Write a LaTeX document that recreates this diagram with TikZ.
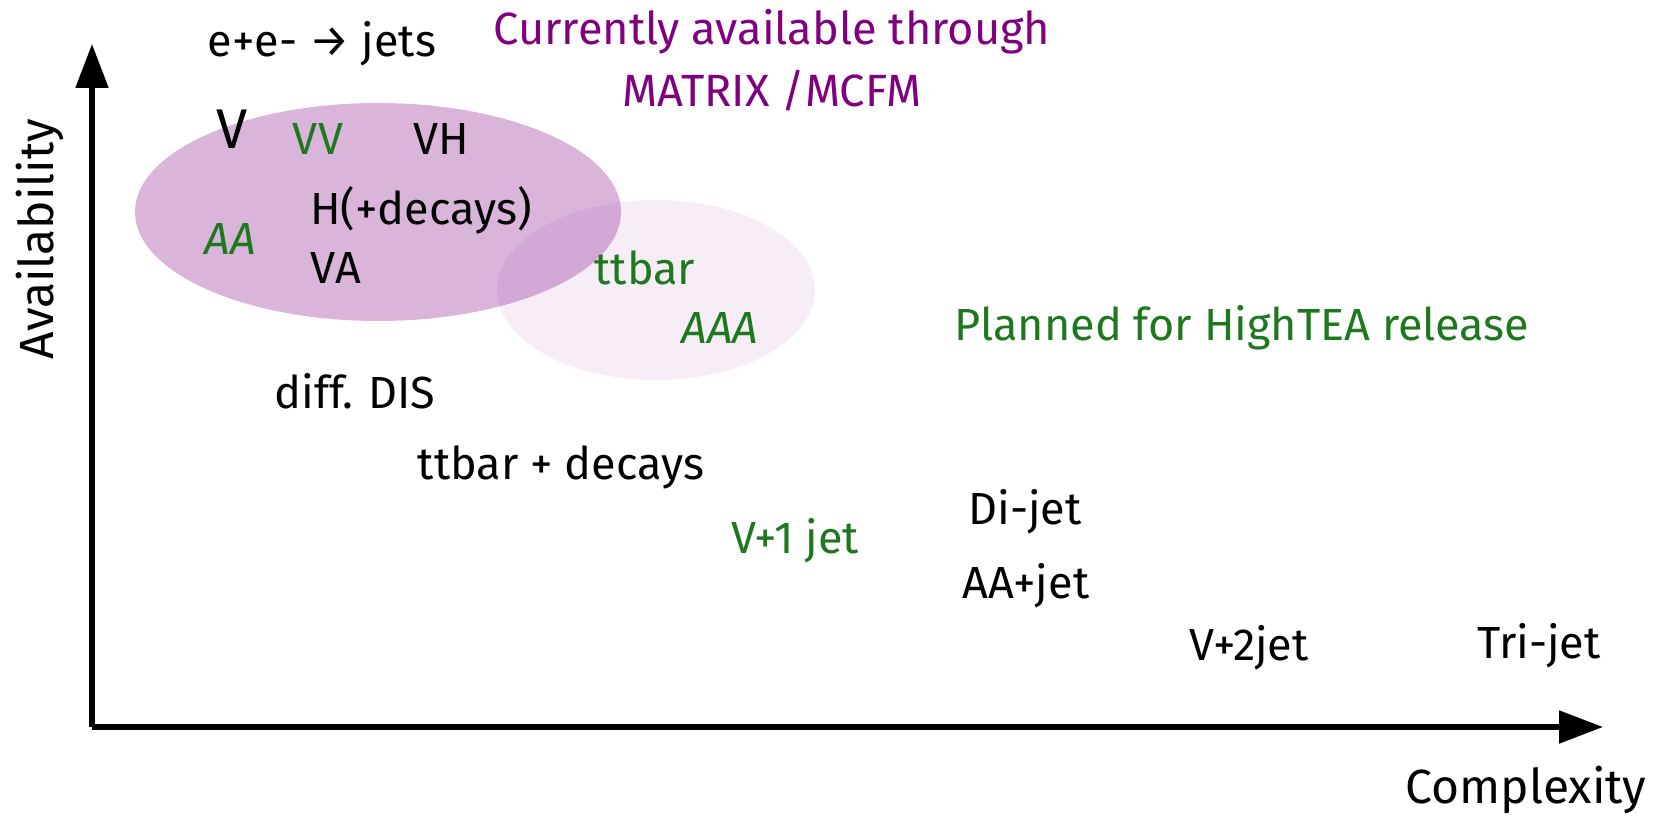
\documentclass[tikz,border=0pt]{standalone}
\usepackage{fontspec}
\setmainfont{Fira Sans}
\usetikzlibrary{arrows.meta}
\definecolor{txtgreen}{RGB}{30,120,30}
\definecolor{txtpurple}{RGB}{128,0,128}
\definecolor{blobpurple}{RGB}{128,0,128}
\tikzset{
  lbl/.style={inner sep=0pt, font=\fontsize{22.5}{26}\selectfont, text=black},
  grn/.style={lbl, text=txtgreen},
  axis/.style={line width=2.6pt, -{Triangle[length=22pt,width=16pt]}},
}
\begin{document}
\begin{tikzpicture}[x=0.5pt,y=-0.5pt]
\useasboundingbox (0,0) rectangle (1656,822);
% blobs
\fill[blobpurple, opacity=0.07] (656,290) ellipse [x radius=159, y radius=90];
\fill[blobpurple, opacity=0.29] (378,212) ellipse [x radius=243, y radius=109];
% axes
\coordinate (origin) at (92,727);
\coordinate (ytip) at (92,44);
\coordinate (xtip) at (1603,727);
\draw[axis] (origin) -- (ytip);
\draw[axis] (origin) -- (xtip);
% labels
\node[lbl, rotate=90, font=\fontsize{24}{28}\selectfont] (avail) at (40,239) {Availability};
\node[lbl, font=\fontsize{24}{28}\selectfont] (complex) at (1526,790) {Complexity};
\node[lbl, text=txtpurple, align=center, font=\fontsize{22.6}{31}\selectfont] (curr) at (772,60) {Currently available through\\MATRIX /MCFM};
\node[grn] (planned) at (1242,328) {Planned for HighTEA release};
\node[lbl] (ee) at (322,44) {e+e- → jets};
\node[lbl, font=\fontsize{28}{30}\selectfont] (V) at (232,129) {V};
\node[grn] (VV) at (318,139) {VV};
\node[lbl] (VH) at (441,139) {VH};
\node[lbl] (H) at (421,210) {H(+decays)};
\node[grn, font=\fontsize{22.5}{26}\selectfont\itshape] (AA) at (230,239) {AA};
\node[lbl] (VA) at (336,268) {VA};
\node[grn] (ttbar) at (645,268) {ttbar};
\node[grn, font=\fontsize{22.5}{26}\selectfont\itshape] (AAA) at (720,328) {AAA};
\node[lbl] (dis) at (355,391) {diff. DIS};
\node[lbl] (ttdec) at (561,467) {ttbar + decays};
\node[lbl] (dijet) at (1025,512) {Di-jet};
\node[grn] (V1) at (795,541) {V+1 jet};
\node[lbl] (AAjet) at (1026,586) {AA+jet};
\node[lbl] (V2) at (1249,648) {V+2jet};
\node[lbl] (trijet) at (1539,646) {Tri-jet};
\end{tikzpicture}
\end{document}
